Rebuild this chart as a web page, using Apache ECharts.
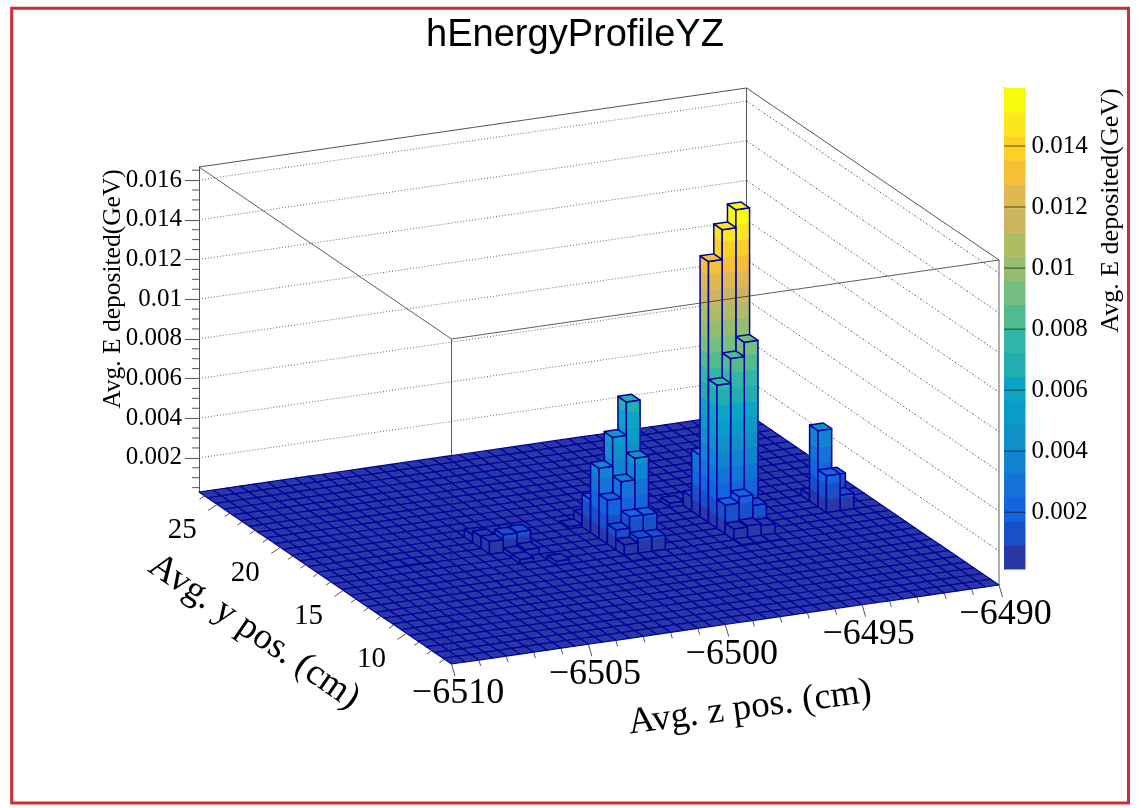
<!DOCTYPE html>
<html><head><meta charset="utf-8">
<style>html,body{margin:0;padding:0;background:#fff}#c{width:1141px;height:808px}</style>
<script src="https://cdn.jsdelivr.net/npm/echarts@6/dist/echarts.min.js"></script>
</head><body><div id="c"></div>
<script>
// ---- data ----
const zPosRange = [-6510, -6490];
const yPosRange = [6.44, 26.44];
const energyRange = [0.00028, 0.01666];
const binsZ = 40, binsY = 30;
const hotBinZ = [30,29,28,30,29,28,28,28,28,29,30,28,29,30, 22,21,20,20,20,22,21,20,20,21,22,20,21,22, 36,36,37,37,36, 14,13,14,12,12,12,13,14,13,15, 5,6,7, 19,27,20,21,22,28,29,30];
const hotBinY = [15,15,15,14,14,14,16,17,13,13,13,12,12,12, 15,15,15,16,17,14,14,14,13,13,13,12,12,12, 15,14,15,14,16, 14,15,15,16,15,17,14,14,13,12, 15,15,15, 17,18,11,11,11,11,11,11];
const hotBinE = [0.01585,0.01495,0.01344,0.00946,0.00874,0.0075,0.0034,0.001,0.00175,0.00207,0.00153,0.00083,0.0009,0.0008,
 0.00696,0.00528,0.00382,0.00195,0.00084,0.00441,0.00333,0.0025,0.00129,0.00186,0.00184,0.00083,0.00106,0.00103,
 0.00412,0.00214,0.00179,0.00106,0.0006,
 0.00088,0.00116,0.0012,0.00088,0.00092,0.00068,0.0005,0.0006,0.0005,0.0005,
 0.00031,0.00032,0.00031,
 0.0004,0.0005,0.00031,0.00031,0.00031,0.00032,0.00032,0.00031];
const zPosTicks = [-6510,-6505,-6500,-6495,-6490];
const zPosMinor = [-6509,-6508,-6507,-6506,-6504,-6503,-6502,-6501,-6499,-6498,-6497,-6496,-6494,-6493,-6492,-6491];
const yPosTicks = [10,15,20,25];
const yPosMinor = [7,8,9,11,12,13,14,16,17,18,19,21,22,23,24,26];
const energyTicks = [0.002,0.004,0.006,0.008,0.01,0.012,0.014,0.016];
const energyMinor = [0.0005,0.001,0.0015,0.0025,0.003,0.0035,0.0045,0.005,0.0055,0.0065,0.007,0.0075,0.0085,0.009,0.0095,0.0105,0.011,0.0115,0.0125,0.013,0.0135,0.0145,0.015,0.0155,0.0165];
const paletteTicks = [0.002,0.004,0.006,0.008,0.01,0.012,0.014];
const paletteRange = [0.00014, 0.0159];
const paletteColors = ['#2a38a6','#1850c8','#1464de','#1473d6','#1283d0','#1090c8','#0a9cc9','#0aa5c6','#22aeb0','#2fb6a6','#50bb8f','#74bf80','#94bd70','#b0bb66','#ccb560','#e0b850','#f5c038','#fdd026','#fde61e','#f9fb0e'];
const titleText = 'hEnergyProfileYZ';
const energyTitle = 'Avg. E deposited(GeV)';
const zPosTitle = 'Avg. z pos. (cm)';
const yPosTitle = 'Avg. y pos. (cm)';

// ---- projection: the grid's own scales give z-pos and energy, y-pos adds a shear ----
const SHEAR_Y = [252.5, 172], SLOPE_Z = -79;
function P(api, zp, yp, e) {
  const c = api.coord([zp, e]);
  const f = (yPosRange[1] - yp) / (yPosRange[1] - yPosRange[0]);
  const g = (zp - zPosRange[0]) / (zPosRange[1] - zPosRange[0]);
  return [c[0] + f * SHEAR_Y[0], c[1] + f * SHEAR_Y[1] + g * SLOPE_Z];
}
const levelStep = (paletteRange[1] - paletteRange[0]) / paletteColors.length;
function levelOf(v) {
  return Math.max(0, Math.min(paletteColors.length - 1, Math.floor((v - paletteRange[0]) / levelStep)));
}
const EDGE = '#00009c';
function poly(points, fill, stroke, lw) {
  return { type: 'polygon', shape: { points }, silent: true,
    style: { fill: fill || 'none', stroke: stroke || 'none', lineWidth: lw || 0, lineJoin: 'round' } };
}
function line(a, b, color, lw, dash) {
  return { type: 'line', silent: true, shape: { x1: a[0], y1: a[1], x2: b[0], y2: b[1] },
    style: { stroke: color, lineWidth: lw, lineDash: dash || null, fill: 'none' } };
}
// cell table (back to front)
const lookup = {};
hotBinZ.forEach((iz, k) => { lookup[iz + '_' + hotBinY[k]] = hotBinE[k]; });
const cells = [];
for (let s = binsZ + binsY - 2; s >= 0; s--) {
  for (let i = Math.min(binsZ - 1, s); i >= 0 && s - i < binsY; i--) {
    const j = s - i;
    const dz = (zPosRange[1] - zPosRange[0]) / binsZ, dy = (yPosRange[1] - yPosRange[0]) / binsY;
    cells.push([zPosRange[0] + i * dz, yPosRange[0] + j * dy, lookup[i + '_' + j] || 0, dz, dy]);
  }
}
function renderCell(params, api) {
  const x0 = api.value(0), y0 = api.value(1), v = api.value(2), dz = api.value(3), dy = api.value(4);
  const x1 = x0 + dz, y1 = y0 + dy, zb = energyRange[0];
  const top = Math.max(v, zb);
  const children = [];
  if (v > zb) {
    const faces = [[[x0, y1], [x0, y0]], [[x0, y0], [x1, y0]]];
    faces.forEach(f => {
      let lo = zb;
      for (let k = levelOf(zb); k < paletteColors.length && lo < top; k++) {
        const hi = Math.min(top, paletteRange[0] + (k + 1) * levelStep);
        if (hi <= lo) continue;
        children.push(poly([P(api, f[0][0], f[0][1], lo), P(api, f[1][0], f[1][1], lo),
          P(api, f[1][0], f[1][1], hi), P(api, f[0][0], f[0][1], hi)], paletteColors[k], paletteColors[k], 0.4));
        lo = hi;
      }
      children.push(poly([P(api, f[0][0], f[0][1], zb), P(api, f[1][0], f[1][1], zb),
        P(api, f[1][0], f[1][1], top), P(api, f[0][0], f[0][1], top)], null, EDGE, 1.5));
    });
  }
  children.push(poly([P(api, x0, y0, top), P(api, x1, y0, top), P(api, x1, y1, top), P(api, x0, y1, top)],
    paletteColors[levelOf(top)], EDGE, v > zb ? 1.5 : 1.2));
  return { type: 'group', children };
}
const [xa, xb] = zPosRange, [ya, yb] = yPosRange, [ea, eb] = energyRange;
function renderWalls(params, api) {
  const e = api.value(0);
  return { type: 'group', children: [
    line(P(api, xa, yb, e), P(api, xb, yb, e), '#666', 1, [1, 2]),
    line(P(api, xb, yb, e), P(api, xb, ya, e), '#666', 1, [2, 2, 1, 2])
  ]};
}
function renderBackFrame(params, api) {
  return { type: 'group', children: [
    line(P(api, xb, yb, ea), P(api, xb, yb, eb), '#555', 1),
    line(P(api, xa, yb, eb), P(api, xb, yb, eb), '#555', 1),
    line(P(api, xb, yb, eb), P(api, xb, ya, eb), '#555', 1)
  ]};
}
function renderFrontFrame(params, api) {
  const s = 'rgba(40,40,40,0.75)';
  return { type: 'group', children: [
    line(P(api, xa, ya, ea), P(api, xa, ya, eb), s, 1),
    line(P(api, xb, ya, ea), P(api, xb, ya, eb), s, 1),
    line(P(api, xa, ya, eb), P(api, xb, ya, eb), s, 1),
    line(P(api, xa, ya, eb), P(api, xa, yb, eb), s, 1)
  ]};
}
function renderZPosTick(params, api) {
  const t = api.value(0), major = api.value(1), p = P(api, t, ya, ea);
  const children = [line(p, [p[0] + (major ? 3.5 : 1.8), p[1] + (major ? 12 : 6)], '#555', 1)];
  if (major) children.push({ type: 'text', silent: true, x: p[0] + 6.5, y: p[1] + 30,
    style: { text: String(t).replace('-', '\u2212'), font: '36px "Liberation Serif"', fill: '#000', align: 'center', verticalAlign: 'middle' } });
  return { type: 'group', children };
}
function renderYPosTick(params, api) {
  const t = api.value(0), major = api.value(1), p = P(api, xa, t, ea);
  const children = [line(p, [p[0] - (major ? 9 : 5), p[1] + (major ? 6 : 3.5)], '#555', 1)];
  if (major) children.push({ type: 'text', silent: true, x: p[0] - 35, y: p[1] + 26,
    style: { text: String(t), font: '29px "Liberation Serif"', fill: '#000', align: 'center', verticalAlign: 'middle' } });
  return { type: 'group', children };
}
function renderEnergyMinor(params, api) {
  const c = api.coord([xa, api.value(0)]);
  return line(c, [c[0] - 7, c[1]], '#555', 1);
}
function renderPalette(params, api) {
  const k = api.value(0);
  const a = api.coord([0, paletteRange[0] + k * levelStep]), b = api.coord([1, paletteRange[0] + (k + 1) * levelStep]);
  return { type: 'rect', silent: true, shape: { x: a[0], y: b[1], width: b[0] - a[0], height: a[1] - b[1] + 0.5 },
    style: { fill: paletteColors[k] } };
}
function renderPaletteTick(params, api) {
  const t = api.value(0);
  return line(api.coord([0, t]), api.coord([1, t]), 'rgba(20,20,20,0.7)', 1);
}
const base = { type: 'custom', xAxisIndex: 0, yAxisIndex: 0, clip: false, silent: true, animation: false, progressive: 0 };
const paletteBase = { type: 'custom', xAxisIndex: 1, yAxisIndex: 1, silent: true, animation: false, progressive: 0, clip: false };
function tx(text, x, y, rotation, size) {
  return { type: 'text', silent: true, x, y, rotation,
    style: { text, font: size + 'px "Liberation Serif"', fill: '#000', align: 'center', verticalAlign: 'middle' } };
}
const chart = echarts.init(document.getElementById('c'), null, { renderer: 'canvas', width: 1141, height: 808 });
chart.setOption({
  animation: false,
  backgroundColor: '#fff',
  title: { text: titleText, left: 570, top: 12, textAlign: 'center',
    textStyle: { fontFamily: 'Liberation Sans', fontSize: 38, fontWeight: 'normal', color: '#000' } },
  grid: [
    { left: 199, top: 167, width: 547.5, height: 325 },
    { left: 1004, top: 88, width: 21.5, height: 481 }
  ],
  xAxis: [
    { type: 'value', gridIndex: 0, min: zPosRange[0], max: zPosRange[1], show: false },
    { type: 'value', gridIndex: 1, min: 0, max: 1, show: false }
  ],
  yAxis: [
    { type: 'value', gridIndex: 0, min: energyRange[0], max: energyRange[1], position: 'left', splitLine: { show: false },
      axisLine: { show: true, lineStyle: { color: '#555', width: 1 } },
      axisTick: { show: true, length: 14, customValues: energyTicks, lineStyle: { color: '#555', width: 1 } },
      axisLabel: { show: true, customValues: energyTicks, margin: 17, color: '#000', fontSize: 25, padding: [2, 0, 0, 0], fontFamily: 'Liberation Serif', formatter: v => String(v), showMinLabel: true, showMaxLabel: true } },
    { type: 'value', gridIndex: 1, min: paletteRange[0], max: paletteRange[1], position: 'right', splitLine: { show: false },
      axisLine: { show: true, lineStyle: { color: '#333', width: 1 } },
      axisTick: { show: false },
      axisLabel: { show: true, customValues: paletteTicks, margin: 6, color: '#000', fontSize: 25, padding: [2, 0, 0, 0], fontFamily: 'Liberation Serif', formatter: v => String(v) } }
  ],
  series: [
    Object.assign({}, base, { name: 'walls', data: energyTicks.map(e => [e]), renderItem: renderWalls, encode: { y: 0 }, z: 1 }),
    Object.assign({}, base, { name: 'backFrame', data: [[0]], renderItem: renderBackFrame, encode: { y: 0 }, z: 1 }),
    Object.assign({}, base, { name: 'cells', data: cells, renderItem: renderCell, encode: { x: 0, y: 2 }, z: 2 }),
    Object.assign({}, base, { name: 'frontFrame', data: [[0]], renderItem: renderFrontFrame, encode: { y: 0 }, z: 3 }),
    Object.assign({}, base, { name: 'zPosTicks', data: zPosTicks.map(t => [t, 1]).concat(zPosMinor.map(t => [t, 0])), renderItem: renderZPosTick, encode: { x: 0 }, z: 3 }),
    Object.assign({}, base, { name: 'yPosTicks', data: yPosTicks.map(t => [t, 1]).concat(yPosMinor.map(t => [t, 0])), renderItem: renderYPosTick, encode: {}, z: 3 }),
    Object.assign({}, base, { name: 'energyMinor', data: energyMinor.map(e => [e]), renderItem: renderEnergyMinor, encode: { y: 0 }, z: 3 }),
    Object.assign({}, paletteBase, { name: 'palette', data: paletteColors.map((c, k) => [k]), renderItem: renderPalette, encode: {}, z: 1 }),
    Object.assign({}, paletteBase, { name: 'paletteTicks', data: paletteTicks.map(t => [t]), renderItem: renderPaletteTick, encode: { y: 0 }, z: 2 })
  ],
  graphic: [
    { type: 'rect', silent: true, z: -1, shape: { x: 11.7, y: 8.3, width: 1116.8, height: 794.7 }, style: { fill: 'none', stroke: '#cd2d2d', lineWidth: 3 } },
    tx(energyTitle, 113, 289, Math.PI / 2, 25.5),
    tx(energyTitle, 1111, 210.5, Math.PI / 2, 26),
    tx(yPosTitle, 254, 632, -0.6, 37),
    tx(zPosTitle, 750, 708, 0.13, 37)
  ]
});
</script></body></html>
